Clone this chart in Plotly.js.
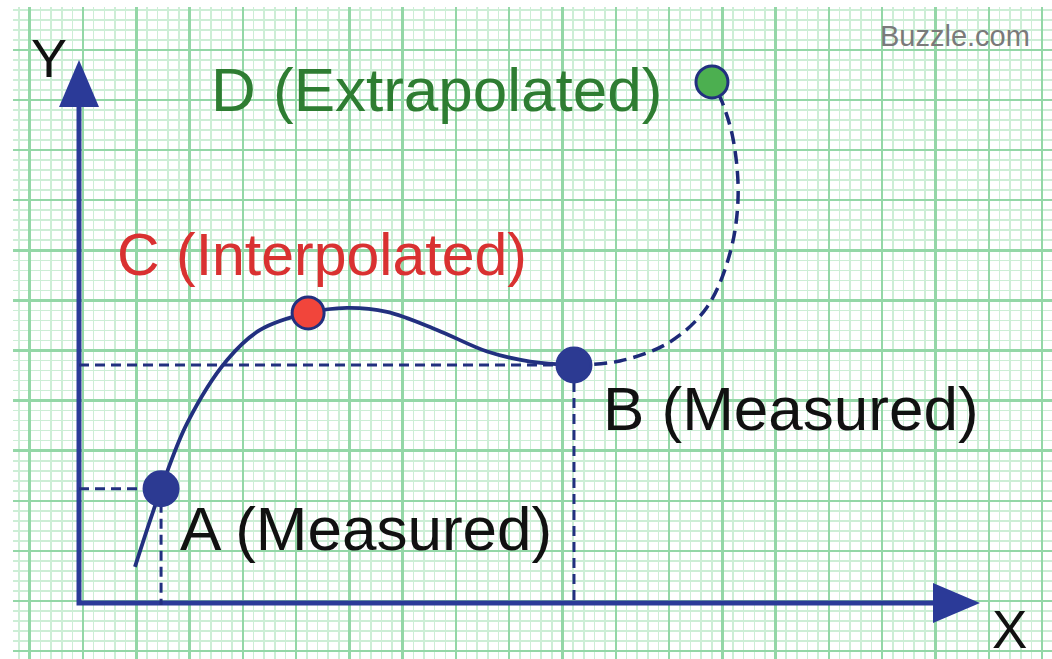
<!DOCTYPE html>
<html>
<head>
<meta charset="utf-8">
<script src="https://cdn.plot.ly/plotly-3.0.1.min.js"></script>
<style>
html, body { margin: 0; padding: 0; background: #fff; }
#chart { width: 1052px; height: 659px; }
</style>
</head>
<body>
<div id="chart"></div>
<script>
// values in graph-paper units (1 = one big square), origin at the drawn axes
const pointNames = ['A', 'C', 'B', 'D'];
const pointX = [1.54, 4.30, 9.29, 11.88];
const pointY = [2.28, 5.79, 4.75, 10.40];

// solid curve through the measured and interpolated points
const curveX = [1.05, 1.54, 2.03, 2.78, 3.40, 4.30, 5.03, 5.78, 6.72, 7.66, 8.47, 9.29];
const curveY = [0.72, 2.28, 3.59, 4.85, 5.45, 5.79, 5.89, 5.81, 5.45, 5.02, 4.82, 4.75];

// dashed extrapolation from B up to D
const extraX = [9.29, 10.15, 11.09, 11.79, 12.22, 12.37, 12.28, 12.07, 11.88];
const extraY = [4.75, 4.83, 5.21, 5.91, 6.99, 8.10, 9.24, 10.00, 10.40];

const labelText = ['A (Measured)', 'C (Interpolated)', 'B (Measured)', 'D (Extrapolated)'];

const NAVY = '#22307f';
const AXIS = '#2b3a98';
const GRID_MAJOR = '#94d7a7';
const GRID_MINOR = '#cdeed6';
const PX_X = 53.28;   // pixels per unit
const PX_Y = 50.1;

const iA = 0, iC = 1, iB = 2, iD = 3;

var guides = [iA, iB].map(function (i) {
    return {
        x: [0, pointX[i], pointX[i]],
        y: [pointY[i], pointY[i], -0.04],
        mode: 'lines',
        hoverinfo: 'none',
        line: { color: NAVY, width: 3, dash: '10px,6px' }
    };
});

var curve = {
    x: curveX,
    y: curveY,
    mode: 'lines',
    hoverinfo: 'none',
    line: { color: NAVY, width: 3.8, shape: 'spline', smoothing: 1 }
};

var extra = {
    x: extraX,
    y: extraY,
    mode: 'lines',
    hoverinfo: 'none',
    line: { color: '#1d2a78', width: 3.5, shape: 'spline', smoothing: 1, dash: '13px,7px' }
};

var points = {
    x: pointX,
    y: pointY,
    mode: 'markers',
    hoverinfo: 'none',
    marker: {
        opacity: 1,
        size: [34, 32, 34, 32],
        color: ['#2c3a92', '#f1453b', '#2c3a92', '#4caf50'],
        line: { color: ['#2c3a92', NAVY, '#2c3a92', NAVY], width: 3 }
    }
};

var data = guides.concat([curve, extra, points]);

// axes with arrow heads
const xTip = 16.91, yTip = 10.84;
const headLen = 47, headHalf = 20;
const xBase = xTip - headLen / PX_X, yBase = yTip - headLen / PX_Y;
var shapes = [
    {
        type: 'path', layer: 'between', xref: 'x', yref: 'y',
        path: `M 0,${yBase + 0.1} L 0,0 L ${xBase + 0.1},0`,
        line: { color: AXIS, width: 5 }
    },
    {
        type: 'path', layer: 'between', xref: 'x', yref: 'y',
        path: `M ${-headHalf / PX_X},${yBase} L 0,${yTip} L ${headHalf / PX_X},${yBase} Z`,
        fillcolor: AXIS, line: { width: 0 }
    },
    {
        type: 'path', layer: 'between', xref: 'x', yref: 'y',
        path: `M ${xBase},${headHalf / PX_Y} L ${xTip},0 L ${xBase},${-headHalf / PX_Y} Z`,
        fillcolor: AXIS, line: { width: 0 }
    }
];

const labelFont = 'Liberation Sans, Arial, sans-serif';
var annotations = [
    { x: pointX[iA], y: pointY[iA], text: labelText[0], xanchor: 'left', xshift: 17, yshift: -40,
      font: { size: 62, color: '#111111', family: labelFont } },
    { x: pointX[iC], y: pointY[iC], text: labelText[1], xanchor: 'center', xshift: 14, yshift: 58,
      font: { size: 59, color: '#d93131', family: labelFont } },
    { x: pointX[iB], y: pointY[iB], text: labelText[2], xanchor: 'left', xshift: 27, yshift: -43,
      font: { size: 62, color: '#111111', family: labelFont } },
    { x: pointX[iD], y: pointY[iD], text: labelText[3], xanchor: 'right', xshift: -48, yshift: -8,
      font: { size: 62, color: '#2e7d32', family: labelFont } },
    { x: -0.56, y: 10.88, text: 'Y', font: { size: 54, color: '#111111', family: labelFont } },
    { x: 17.47, y: -0.52, text: 'X', font: { size: 53, color: '#111111', family: labelFont } },
    { x: 16.44, y: 11.31, text: 'Buzzle.com', font: { size: 29, color: '#7a7a7a', family: labelFont } }
].map(function (a) { a.showarrow = false; a.yanchor = 'middle'; return a; });

var axisStyle = {
    dtick: 1,
    showgrid: true,
    gridcolor: GRID_MAJOR,
    gridwidth: 2.5,
    zeroline: false,
    showline: false,
    showticklabels: false,
    ticks: '',
    fixedrange: true
};

var layout = {
    width: 1052,
    height: 659,
    margin: { l: 13, r: 0, t: 7, b: 0 },
    paper_bgcolor: '#ffffff',
    plot_bgcolor: '#ffffff',
    showlegend: false,
    xaxis: Object.assign({}, axisStyle, {
        range: [-1.239, 18.262],
        tick0: 0.075,
        minor: { tick0: 0.075, dtick: 0.2, showgrid: true, gridcolor: GRID_MINOR, gridwidth: 1.6 }
    }),
    yaxis: Object.assign({}, axisStyle, {
        range: [-1.118, 11.896],
        tick0: 0.04,
        minor: { tick0: 0.04, dtick: 0.2, showgrid: true, gridcolor: GRID_MINOR, gridwidth: 1.6 }
    }),
    shapes: shapes,
    annotations: annotations
};

Plotly.newPlot('chart', data, layout, { staticPlot: true, displayModeBar: false });
</script>
</body>
</html>
